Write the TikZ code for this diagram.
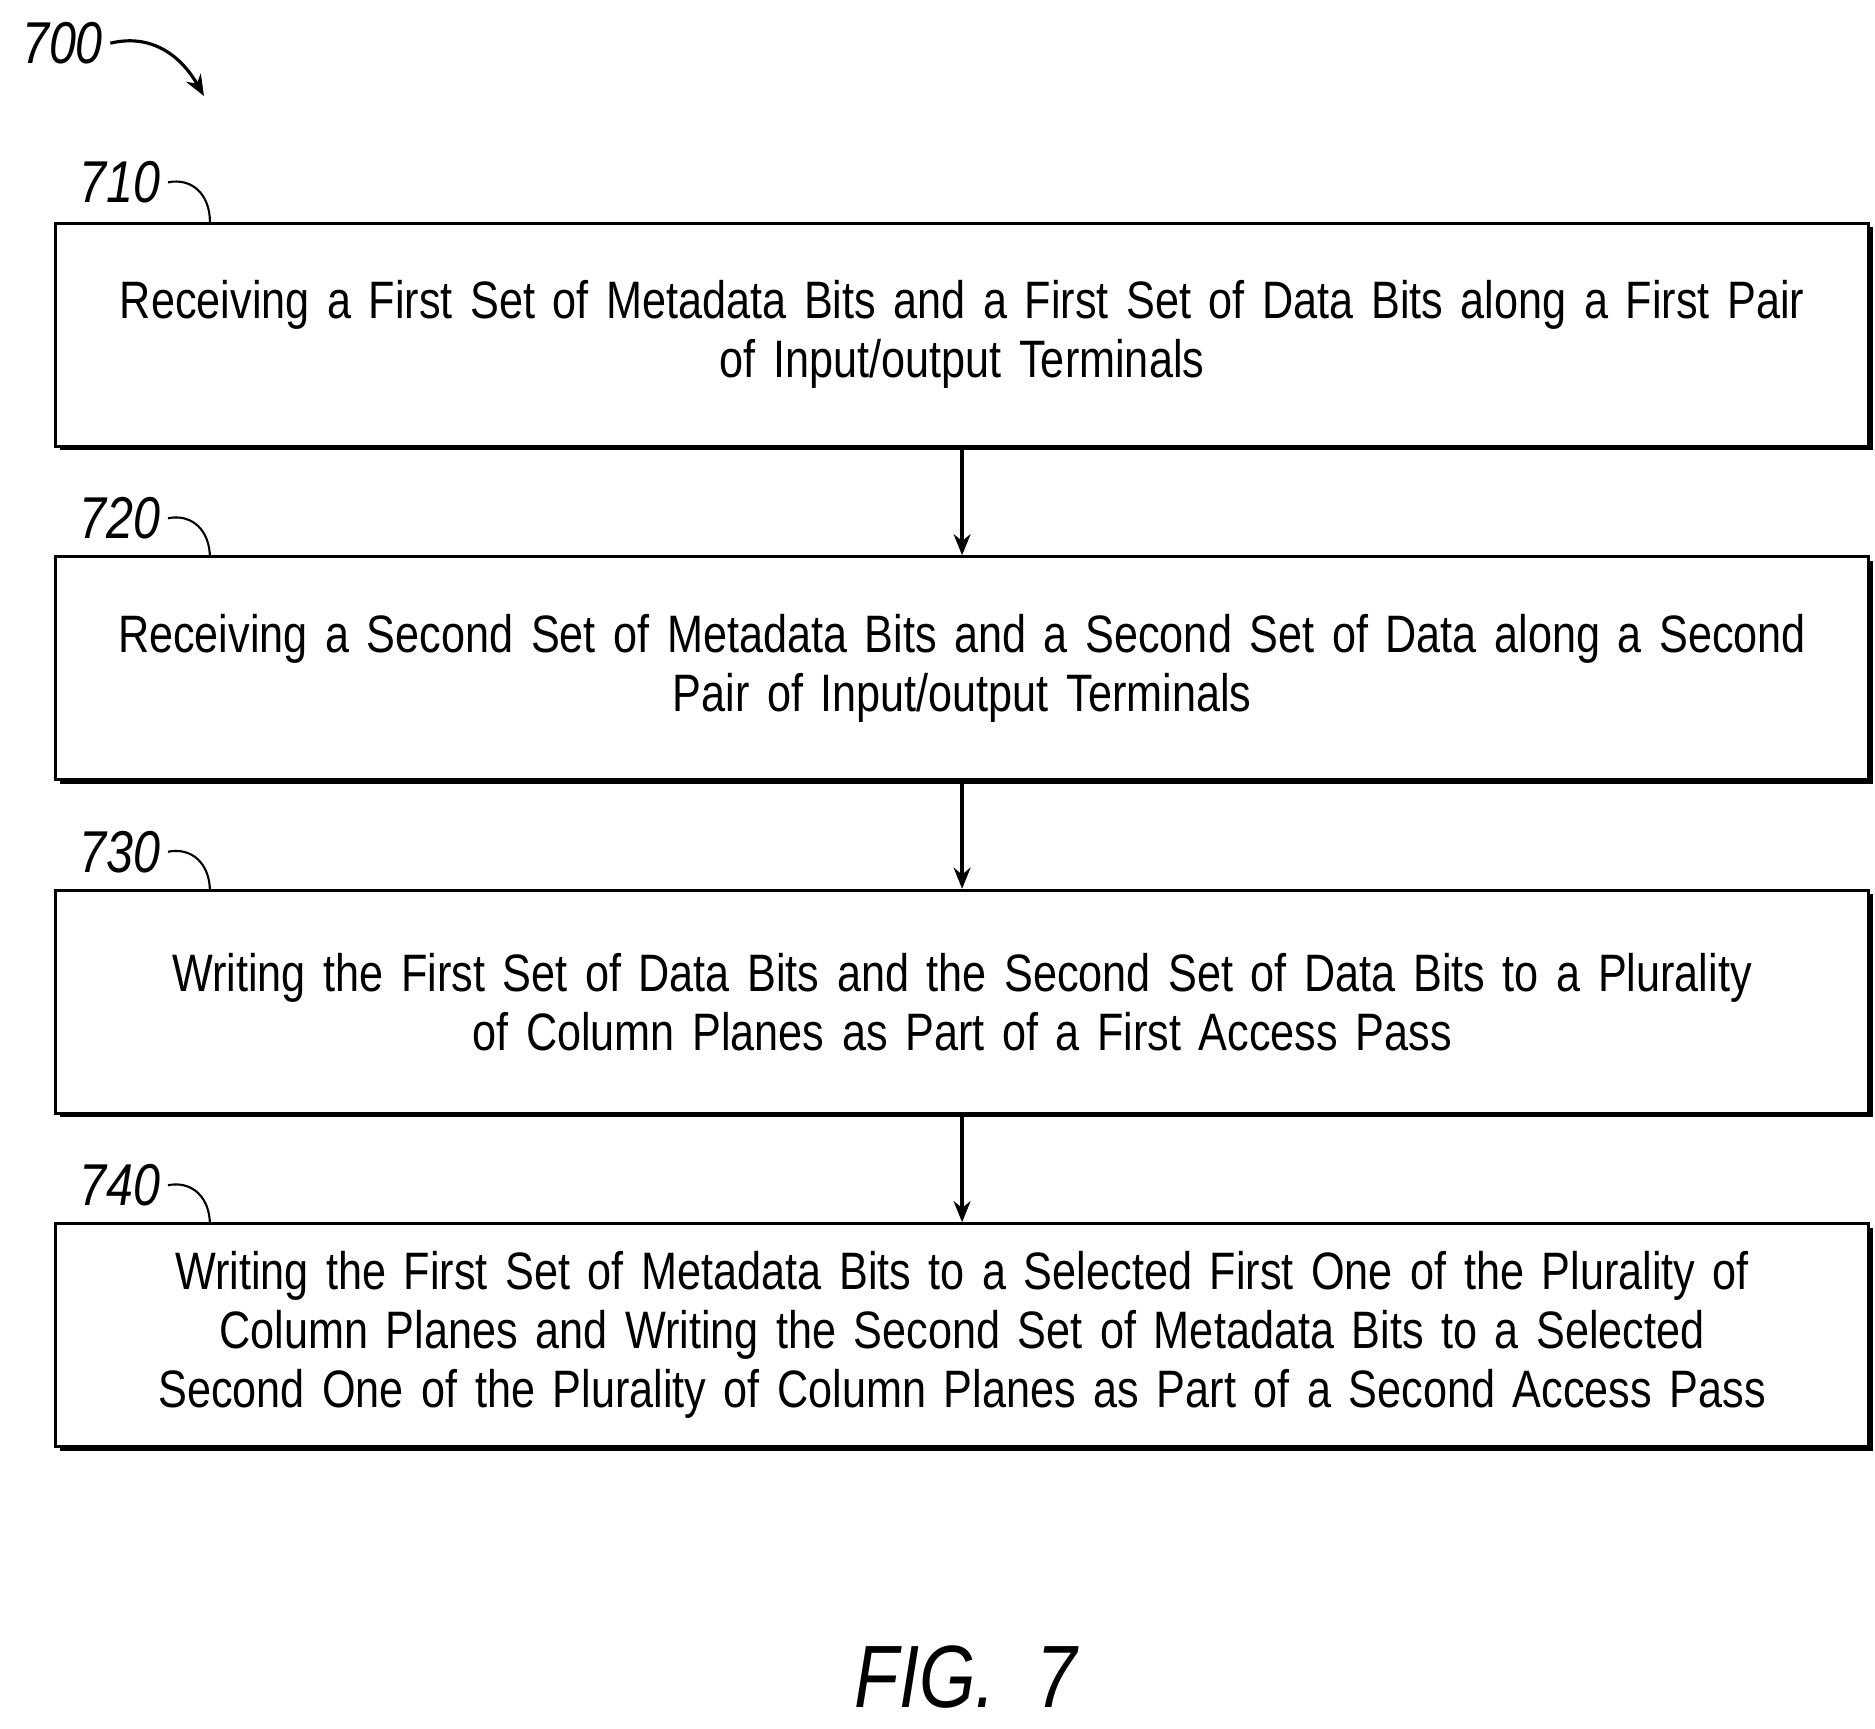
\documentclass[tikz,border=0pt]{standalone}
\usepackage{fontspec}
\setmainfont{Liberation Sans}[FakeStretch=0.82]
\usetikzlibrary{arrows.meta, shadows}
\begin{document}
\begin{tikzpicture}[x=0.02cm, y=-0.02cm, >={Stealth[length=10pt,width=8pt]},
	every node/.style={font=\fontsize{25}{28}\selectfont},
	stepbox/.style={draw, line width=1.3pt, minimum width=29.8cm, minimum height=3.72cm, align=center, text width=30cm, fill=white,
		drop shadow={shadow xshift=0.07cm, shadow yshift=-0.07cm, opacity=1, fill=black}},
	tag/.style={font=\itshape\fontsize{28}{28}\selectfont, anchor=east}]
	\useasboundingbox (0,0) rectangle (1563,1441);
	% steps
	\node[stepbox] (s710) at (802,279) {Receiving a First Set of Metadata Bits and a First Set of Data Bits along a First Pair\\of Input/output Terminals};
	\node[stepbox] (s720) at (802,557) {Receiving a Second Set of Metadata Bits and a Second Set of Data along a Second\\Pair of Input/output Terminals};
	\node[stepbox] (s730) at (802,835) {Writing the First Set of Data Bits and the Second Set of Data Bits to a Plurality\\of Column Planes as Part of a First Access Pass};
	\node[stepbox] (s740) at (802,1113) {Writing the First Set of Metadata Bits to a Selected First One of the Plurality of\\Column Planes and Writing the Second Set of Metadata Bits to a Selected\\Second One of the Plurality of Column Planes as Part of a Second Access Pass};
	\draw[->, line width=1.8pt] (s710) -- (s720);
	\draw[->, line width=1.8pt] (s720) -- (s730);
	\draw[->, line width=1.8pt] (s730) -- (s740);
	% reference numerals
	\foreach \n/\y in {710/152, 720/432, 730/710, 740/988}{
		\node[tag] (t\n) at (140,\y) {\n};
		\draw[line width=1pt] (t\n.east) .. controls (160,\y-4) and (175,\y+10) .. (175,\y+33);
	}
	\node[tag] (t700) at (92,36) {700};
	\draw[->, line width=1.5pt] (t700.east) .. controls (125,28) and (150,45) .. (170,80);
	\node[font=\itshape\fontsize{42}{42}\selectfont] (fig) at (805,1398) {FIG.\ \ 7};
\end{tikzpicture}
\end{document}
